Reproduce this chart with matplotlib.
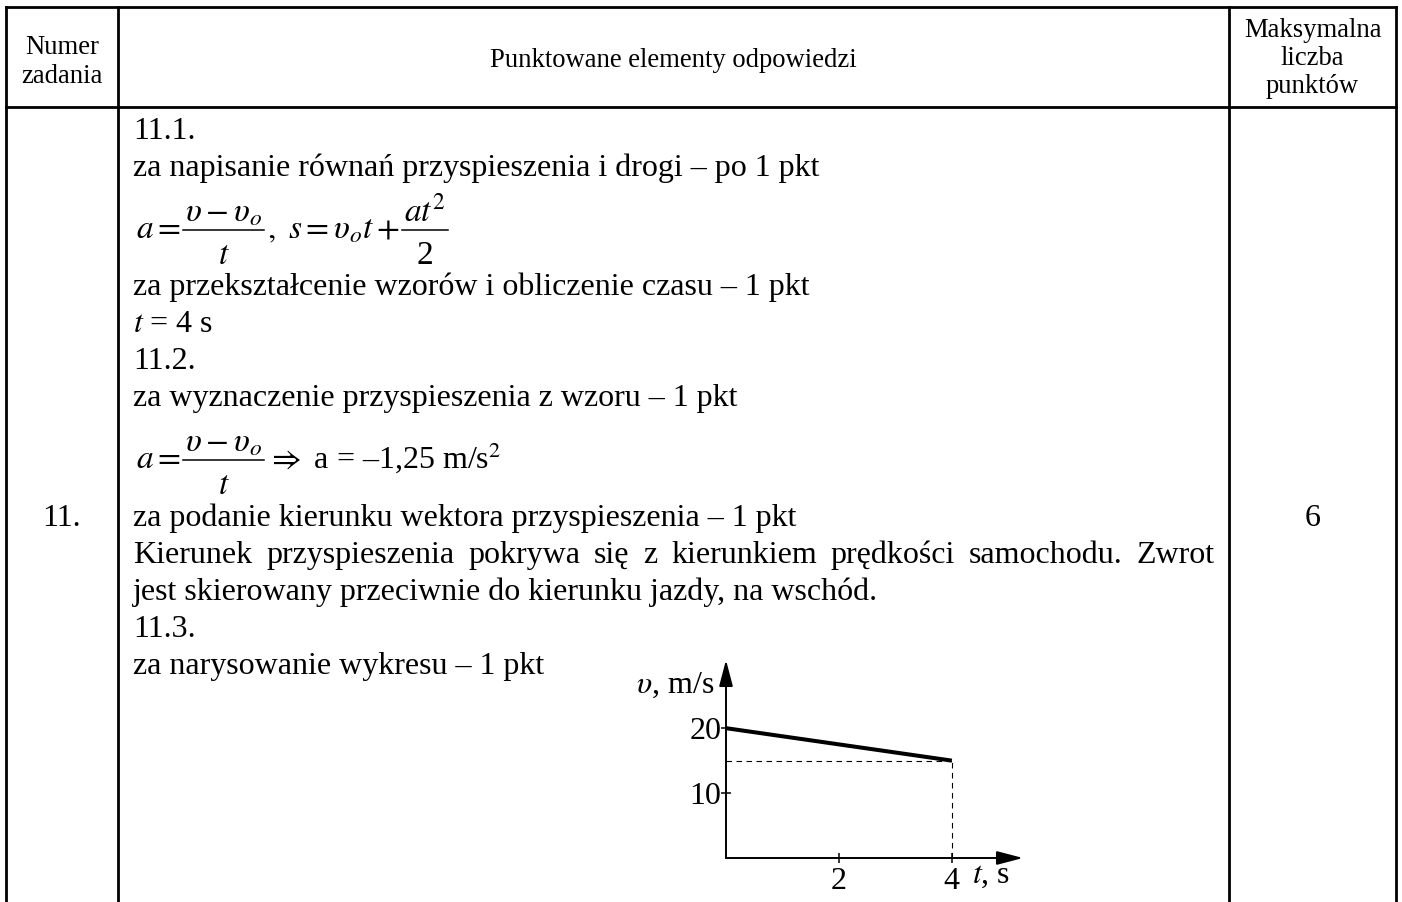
import matplotlib
matplotlib.use('Agg')
import matplotlib.pyplot as plt
from matplotlib.lines import Line2D

plt.rcParams['font.family'] = ['Liberation Serif', 'DejaVu Serif']
plt.rcParams['mathtext.fontset'] = 'stix'

# values of the v(t) graph (task 11.3)
t_pts = [0, 4]
v_pts = [20, 15]
t_ticks = [2, 4]
v_ticks = [10, 20]
t_max = 5.26
v_max = 30.5

# table texts
header_left = ['Numer', 'zadania']
header_mid = 'Punktowane elementy odpowiedzi'
header_right = ['Maksymalna', 'liczba', 'punktów']
task_no = '11.'
max_points = '6'

body_lines = [
    '11.1.',
    'za napisanie równań przyspieszenia i drogi – po 1 pkt',
    'za przekształcenie wzorów i obliczenie czasu – 1 pkt',
    r'$t$ = 4 s',
    '11.2.',
    'za wyznaczenie przyspieszenia z wzoru – 1 pkt',
    'za podanie kierunku wektora przyspieszenia – 1 pkt',
    'Kierunek przyspieszenia pokrywa się z kierunkiem prędkości samochodu. Zwrot',
    'jest skierowany przeciwnie do kierunku jazdy, na wschód.',
    '11.3.',
    'za narysowanie wykresu – 1 pkt',
]
body_base = [139, 176, 295, 332, 369, 406, 526, 563, 600, 637, 674]
justified = {7}

# formulas: plain pieces and (numerator, denominator) fractions
formula_1 = [r'$a=$', (r'$\upsilon-\upsilon_o$', r'$t$'),
             r'$,\ s=\upsilon_o t+$', (r'$at^2$', '2')]
formula_2 = [r'$a=$', (r'$\upsilon-\upsilon_o$', r'$t$'),
             r'$\Rightarrow$ a = –1,25 m/s$^2$']
formula_bar_y = [230, 460]

W, H = 1402, 902
fig = plt.figure(figsize=(W / 100, H / 100), dpi=100)
bg = fig.add_axes([0, 0, 1, 1])
bg.set_xlim(0, W)
bg.set_ylim(H, 0)
bg.axis('off')
renderer = fig.canvas.get_renderer()

# table grid
col_x = [6, 118, 1229, 1396]
top_y, head_y = 7, 107
lw_tab = 2.0
for y in (top_y, head_y):
    bg.add_line(Line2D([col_x[0], col_x[-1]], [y, y], color='black', lw=lw_tab))
for x in col_x:
    bg.add_line(Line2D([x, x], [top_y, H], color='black', lw=lw_tab))

fs_head = 19.2
fs_body = 23
fs_math = 24

cx1 = (col_x[0] + col_x[1]) / 2
cx2 = (col_x[1] + col_x[2]) / 2
cx3 = (col_x[2] + col_x[3]) / 2
for s, y in zip(header_left, [54, 83]):
    bg.text(cx1, y, s, fontsize=fs_head, ha='center', va='baseline')
bg.text(cx2, 67, header_mid, fontsize=fs_head, ha='center', va='baseline')
for s, y in zip(header_right, [37, 65, 93]):
    bg.text(cx3, y, s, fontsize=fs_head, ha='center', va='baseline')

bg.text(cx1, 526, task_no, fontsize=fs_body, ha='center', va='baseline')
bg.text(cx3, 526, max_points, fontsize=fs_body, ha='center', va='baseline')

left_x, right_x = 133, 1215
for i, (s, y) in enumerate(zip(body_lines, body_base)):
    if i in justified:
        words = s.split()
        txts = [bg.text(0, y, w, fontsize=fs_body, va='baseline') for w in words]
        widths = [t.get_window_extent(renderer).width for t in txts]
        gap = (right_x - left_x - sum(widths)) / (len(words) - 1)
        x = left_x
        for t, w in zip(txts, widths):
            t.set_x(x)
            x += w + gap
    else:
        bg.text(left_x, y, s, fontsize=fs_body, va='baseline')


def width_of(t):
    return t.get_window_extent(renderer).width


def draw_formula(parts, bar_y, x=136):
    for p in parts:
        if isinstance(p, tuple):
            num = bg.text(0, bar_y - 9, p[0], fontsize=fs_math, va='baseline', ha='center')
            den = bg.text(0, bar_y + 34, p[1], fontsize=fs_math, va='baseline', ha='center')
            w = max(width_of(num), width_of(den)) + 4
            num.set_x(x + 1 + w / 2)
            den.set_x(x + 1 + w / 2)
            bg.add_line(Line2D([x + 1, x + 1 + w], [bar_y, bar_y], color='black', lw=1.1))
            x += w + 4
        else:
            size = fs_body if ' a ' in p else fs_math
            t = bg.text(x, bar_y + 8, p, fontsize=size, va='baseline')
            x += width_of(t) + 1


draw_formula(formula_1, formula_bar_y[0])
draw_formula(formula_2, formula_bar_y[1])

# small v(t) graph
ox, oy, tx, ty = 726, 858, 1023, 660
ax = fig.add_axes([ox / W, 1 - oy / H, (tx - ox) / W, (oy - ty) / H])
ax.set_xlim(0, t_max)
ax.set_ylim(0, v_max)
ax.patch.set_alpha(0)
for sp in ax.spines.values():
    sp.set_visible(False)

arrow = dict(arrowstyle='-|>,head_length=1.6,head_width=0.42', color='black',
             lw=1.4, shrinkA=0, shrinkB=0, mutation_scale=10)
ax.annotate('', xy=(1, 0), xytext=(0, 0), xycoords='axes fraction',
            textcoords='axes fraction', arrowprops=arrow, annotation_clip=False)
ax.annotate('', xy=(0, 1), xytext=(0, 0), xycoords='axes fraction',
            textcoords='axes fraction', arrowprops=arrow, annotation_clip=False)

ax.plot(t_pts, v_pts, color='black', lw=2.9, solid_capstyle='butt', clip_on=False)
ax.plot([0, t_pts[-1]], [v_pts[-1], v_pts[-1]], color='black', lw=0.8,
        ls=(0, (5, 4)), clip_on=False)
ax.plot([t_pts[-1], t_pts[-1]], [0, v_pts[-1]], color='black', lw=0.8,
        ls=(0, (5, 4)), clip_on=False)

ax.set_xticks(t_ticks)
ax.set_yticks(v_ticks)
ax.tick_params(direction='inout', length=7, width=1.1, labelsize=fs_body)
ax.tick_params(axis='y', pad=0)
ax.tick_params(axis='x', pad=3)

ax.text(-0.04, 0.874, r'$\upsilon$, m/s', transform=ax.transAxes,
        fontsize=fs_body, ha='right', va='center')
ax.text(0.828, -0.126, r'$t$, s', transform=ax.transAxes,
        fontsize=fs_body, ha='left', va='baseline')

fig.savefig('out.png', dpi=100)
